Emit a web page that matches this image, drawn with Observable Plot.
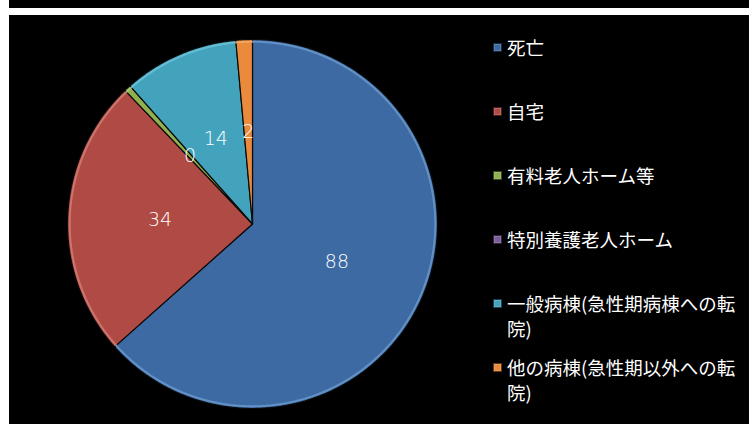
<!DOCTYPE html>
<html>
<head>
<meta charset="utf-8">
<script src="https://cdn.jsdelivr.net/npm/d3@7"></script>
<script src="https://cdn.jsdelivr.net/npm/@observablehq/plot@0.6"></script>
<style>
  html, body { margin: 0; padding: 0; background: #fff; width: 749px; height: 424px; overflow: hidden; }
  #topbar { position: absolute; left: 9px; top: 0; width: 740px; height: 8px; background: #000; }
  #chart { position: absolute; left: 9px; top: 15px; width: 740px; height: 409px; background: #000; }
  #legend { position: absolute; left: 493px; top: 34.5px; font-family: "Noto Sans CJK JP", sans-serif; font-size: 18.5px; color: #fff; }
  .item { position: relative; height: 64px; }
  .sw { position: absolute; left: 0; top: 8px; width: 7px; height: 7px; border: 1px solid rgba(0,0,0,0.6); box-shadow: inset 0 0 0 1px rgba(255,255,255,0.15); }
  .tx { position: absolute; left: 14px; top: 0; width: 240px; line-height: 25px; }
</style>
</head>
<body>
<div id="topbar"></div>
<div id="chart"></div>
<div id="legend"></div>
<script>
const categories = ["死亡", "自宅", "有料老人ホーム等", "特別養護老人ホーム", "一般病棟(急性期病棟への転院)", "他の病棟(急性期以外への転院)"];
const values = [88, 34, 0.8, 0, 14, 2];
const labels = ["88", "34", "0", "", "14", "2"];
const colors = ["#3e6aa3", "#b04a45", "#8fb04f", "#7a5d9c", "#43a3bd", "#e98a3c"];
const rimColors = ["#8ec0f0", "#f0a8a0", "#c8e090", "#b8a0d8", "#90def0", "#ffc890"];

const rows = categories.map((c, i) => ({category: c, value: values[i], label: labels[i]}));
const arcs = d3.pie().sort(null).value(d => d.value)(rows);

const slicePts = [];
const rimPts = [];
arcs.forEach(a => {
  if (a.endAngle - a.startAngle <= 0) return;
  const c = a.data.category;
  slicePts.push({category: c, x: 0, y: 0});
  const n = Math.max(2, Math.ceil((a.endAngle - a.startAngle) / 0.01));
  for (let k = 0; k <= n; k++) {
    const t = a.startAngle + (a.endAngle - a.startAngle) * k / n;
    slicePts.push({category: c, x: Math.sin(t), y: Math.cos(t)});
    rimPts.push({category: c, x: 0.988 * Math.sin(t), y: 0.988 * Math.cos(t), t});
  }
  slicePts.push({category: c, x: 0, y: 0});
});
const labelPts = arcs.filter(a => a.data.label !== "").map(a => {
  const m = (a.startAngle + a.endAngle) / 2;
  return {label: a.data.label, x: 0.5 * Math.sin(m), y: 0.5 * Math.cos(m)};
});

const chart = Plot.plot({
  width: 740,
  height: 409,
  marginLeft: 58,
  marginRight: 312,
  marginTop: 24,
  marginBottom: 16,
  x: {domain: [-1, 1], axis: null},
  y: {domain: [-1, 1], axis: null},
  color: {domain: categories, range: colors},
  style: {background: "#000", overflow: "visible"},
  marks: [
    Plot.line(slicePts, {x: "x", y: "y", z: "category", fill: "category", stroke: "#0a0a0a", strokeWidth: 1.2, curve: "linear"}),
    Plot.line(rimPts, {x: "x", y: "y", z: "category", stroke: d => rimColors[categories.indexOf(d.category)], strokeWidth: 2, strokeOpacity: 0.45}),
    Plot.text(labelPts, {x: "x", y: "y", text: "label", fill: "#fff", fontSize: 19, fontFamily: "DejaVu Sans", fontWeight: 200})
  ]
});
document.getElementById("chart").appendChild(chart);

const legend = document.getElementById("legend");
categories.forEach((c, i) => {
  const item = document.createElement("div");
  item.className = "item";
  const sw = document.createElement("div");
  sw.className = "sw";
  sw.style.background = colors[i];
  const tx = document.createElement("div");
  tx.className = "tx";
  tx.textContent = c;
  item.appendChild(sw);
  item.appendChild(tx);
  legend.appendChild(item);
});
</script>
</body>
</html>
